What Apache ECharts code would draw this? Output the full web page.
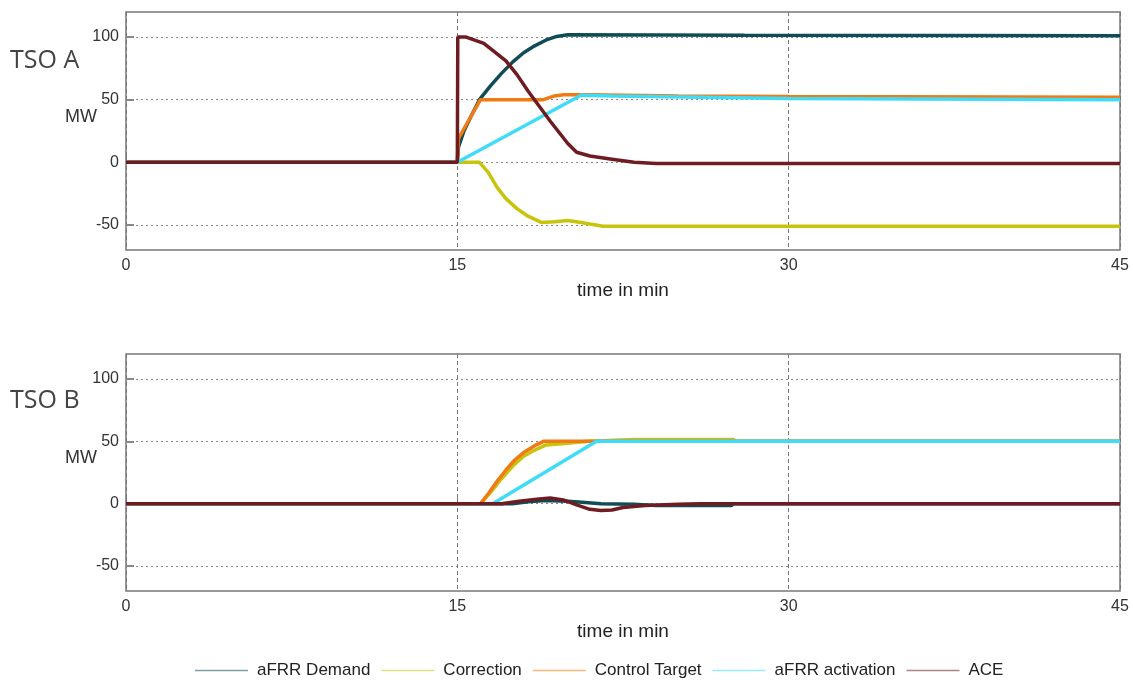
<!DOCTYPE html>
<html>
<head>
<meta charset="utf-8">
<script src="https://cdn.jsdelivr.net/npm/echarts@6/dist/echarts.min.js"></script>
<style>
  html, body { margin: 0; padding: 0; background: #fff; }
  #main { width: 1133px; height: 680px; }
</style>
</head>
<body>
<div id="main"></div>
<script type="text/javascript">
// series names / colours
var names = ['aFRR Demand', 'Correction', 'Control Target', 'aFRR activation', 'ACE'];
var colors = ['#0f4c57', '#c8c40c', '#f07a14', '#3fdcf8', '#6e1c22'];
var yTicks = [-50, 0, 50, 100];

// TSO A  [time in min, MW]
var demandA = [[0,0],[15,0],[15.05,12],[15.3,25],[15.6,36],[16,50],[16.5,61],[17,71],[17.5,80],[18,87.5],[18.5,93],[19,97.5],[19.5,100.5],[20,101.8],[28,101.5],[45,101]];
var correctionA = [[0,0],[16,0],[16.4,-8],[16.8,-20],[17.2,-29],[17.7,-37],[18.2,-43],[18.8,-48],[19.4,-47.5],[20,-46.5],[20.6,-48],[21.6,-51],[45,-51]];
var controlA = [[0,0],[15,0],[15.05,19],[15.5,33],[16.05,50],[18.9,50],[19.4,53],[19.8,54],[21,54],[25,53],[30,52.5],[45,52]];
var activationA = [[0,0],[15,0],[20.6,53.5],[22,53],[26,52],[30,51],[45,50]];
var aceA = [[0,0],[15,0],[15.02,100],[15.4,100],[16.2,95],[17.2,81],[17.7,70],[18.2,57],[18.7,45],[19.2,33],[19.6,24],[20,15],[20.4,8],[21,5],[22,2.5],[23,0],[24,-1],[45,-1]];

// TSO B  [time in min, MW]
var demandB = [[0,0],[17.5,0],[18.2,1.5],[19,2.5],[20,2],[20.8,1],[21.5,0],[23,-0.5],[24,-1.5],[27.4,-1.5],[27.5,0],[45,0]];
var correctionB = [[0,0],[16.05,0],[16.5,9],[17,20],[17.5,30],[18,38],[18.5,43],[19,47],[20,48.5],[20.9,50],[23,51.5],[27.5,51.5],[27.6,50],[45,50]];
var controlB = [[0,0],[16.05,0],[16.4,8],[16.8,18],[17.2,27],[17.6,35],[18,41],[18.5,46.5],[18.9,50],[45,50]];
var activationB = [[0,0],[16.6,0],[21.3,50],[45,50]];
var aceB = [[0,0],[17,0],[17.8,2],[18.6,3.5],[19.2,4.5],[19.8,3],[20.4,-1],[21,-4.5],[21.5,-5.5],[22,-5],[22.5,-3],[23.5,-1.5],[25,-0.5],[26,0],[45,0]];

var dataA = [demandA, correctionA, controlA, activationA, aceA];
var dataB = [demandB, correctionB, controlB, activationB, aceB];

var labelFont = { fontFamily: 'Liberation Sans', fontSize: 16, color: '#333' };

function xAxisFor(idx) {
  return {
    type: 'value', gridIndex: idx, min: 0, max: 45, interval: 15,
    name: 'time in min', nameLocation: 'middle', nameGap: 31,
    nameTextStyle: { fontFamily: 'Liberation Sans', fontSize: 19, color: '#222' },
    axisLine: { show: false },
    axisTick: { show: true, inside: true, length: 7, lineStyle: { color: '#777' } },
    axisLabel: Object.assign({ margin: 8 }, labelFont),
    splitLine: { show: true, lineStyle: { color: '#777', type: [4, 3], width: 1 } }
  };
}
function yAxisFor(idx) {
  return {
    type: 'value', gridIndex: idx, min: -70, max: 120,
    axisLine: { show: false },
    axisTick: { show: true, inside: true, length: 8, customValues: yTicks, lineStyle: { color: '#888', width: 2 } },
    axisLabel: Object.assign({ margin: 7, customValues: yTicks }, labelFont),
    splitLine: { show: true, lineStyle: { color: '#888', type: [2, 3], width: 1 } }
  };
}

var series = [];
[dataA, dataB].forEach(function (set, g) {
  set.forEach(function (d, i) {
    series.push({
      name: names[i], type: 'line', xAxisIndex: g, yAxisIndex: g,
      data: d, showSymbol: false, silent: true, animation: false,
      lineStyle: { color: colors[i], width: 3.5 },
      itemStyle: { color: colors[i] }
    });
  });
});

var chart = echarts.init(document.getElementById('main'));
chart.setOption({
  backgroundColor: '#fff',
  animation: false,
  grid: [
    { left: 126, top: 12, width: 994, height: 238, show: true, borderColor: '#777', borderWidth: 1.5 },
    { left: 126, top: 354, width: 994, height: 237, show: true, borderColor: '#777', borderWidth: 1.5 }
  ],
  xAxis: [xAxisFor(0), xAxisFor(1)],
  yAxis: [yAxisFor(0), yAxisFor(1)],
  legend: {
    data: names, top: 657, left: 190,
    icon: 'rect', itemWidth: 53, itemHeight: 1.5, itemGap: 11,
    itemStyle: { opacity: 0.55 },
    textStyle: { fontFamily: 'Liberation Sans', fontSize: 17, color: '#222', padding: [0, 0, 0, 4] }
  },
  graphic: [
    { type: 'text', left: 10, top: 48, style: { text: 'TSO A', font: '25px "Open Sans"', fill: '#444' } },
    { type: 'text', left: 65, top: 108, style: { text: 'MW', font: '18px "Liberation Sans"', fill: '#333' } },
    { type: 'text', left: 10, top: 388, style: { text: 'TSO B', font: '25px "Open Sans"', fill: '#444' } },
    { type: 'text', left: 65, top: 449, style: { text: 'MW', font: '18px "Liberation Sans"', fill: '#333' } }
  ],
  series: series
});
</script>
</body>
</html>
